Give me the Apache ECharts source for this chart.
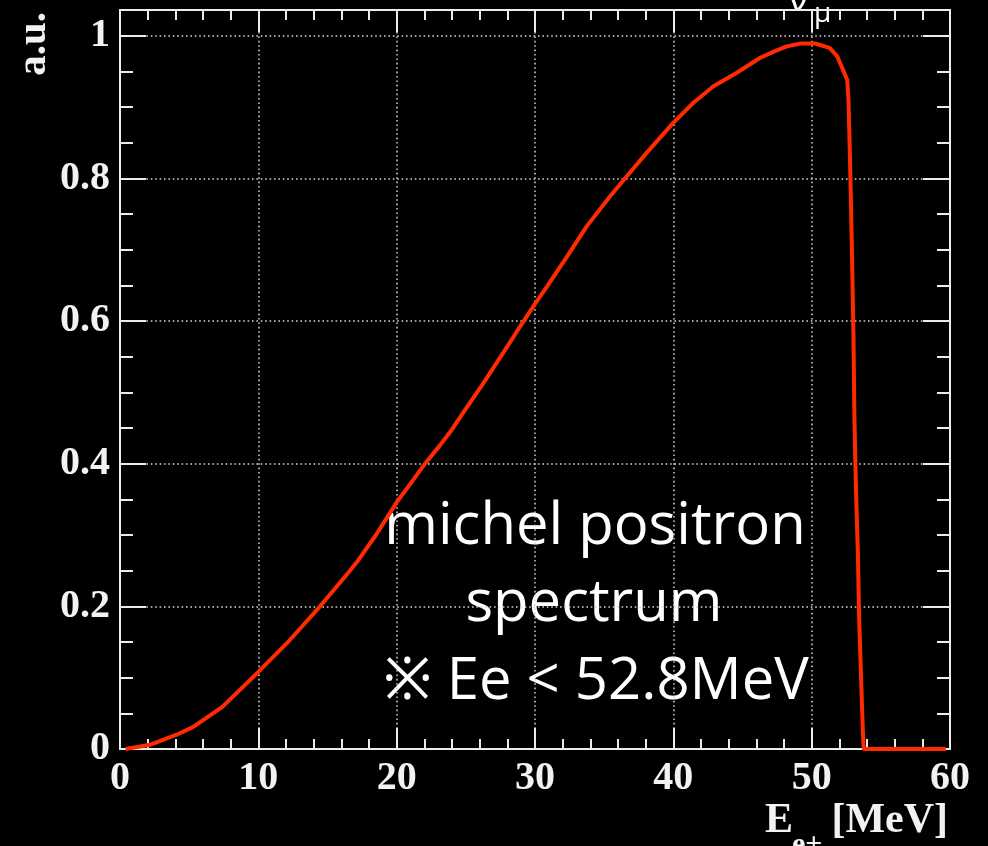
<!DOCTYPE html>
<html>
<head>
<meta charset="utf-8">
<title>Michel positron spectrum</title>
<script src="https://cdn.jsdelivr.net/npm/echarts@6/dist/echarts.min.js"></script>
<style>
  html, body { margin: 0; padding: 0; background: #000; }
  #chart { width: 988px; height: 846px; }
</style>
</head>
<body>
<div id="chart"></div>
<script>
// Positron energy (MeV) and normalised yield (a.u.)
const energy = [
  0.4, 2.2, 4.1, 5.3, 7.4, 10.0, 12.1, 14.46, 15.5, 16.5,
  17.2, 18.5, 19.52, 20.0, 21.0, 22.05, 23.14, 24.0, 24.82, 26.27,
  27.72, 28.68, 30.0, 30.85, 32.3, 33.75, 35.43, 36.64, 38.08, 40.01,
  41.45, 42.9, 44.59, 45.55, 46.28, 47.3, 48.21, 49.2, 50.25, 51.3,
  51.85, 52.27, 52.57, 52.66, 52.78, 52.91, 53.02, 53.09, 53.2, 53.34,
  53.43, 53.58, 53.7, 53.76, 59.7
];
const yieldAU = [
  0.0, 0.006, 0.020, 0.031, 0.059, 0.108, 0.149, 0.200, 0.224, 0.247,
  0.264, 0.300, 0.331, 0.346, 0.372, 0.400, 0.426, 0.448, 0.472, 0.513,
  0.556, 0.585, 0.624, 0.648, 0.690, 0.733, 0.775, 0.803, 0.836, 0.878,
  0.906, 0.929, 0.948, 0.960, 0.969, 0.978, 0.985, 0.989, 0.989, 0.983,
  0.971, 0.952, 0.938, 0.910, 0.820, 0.700, 0.580, 0.465, 0.366, 0.275,
  0.185, 0.095, 0.025, 0.0, 0.0
];

// Axis ranges and tick positions
const xRange = [0, 60];
const yRange = [0, 1.036];
const yMajorTicks = [0, 0.2, 0.4, 0.6, 0.8, 1];
const yMinorTicks = [];
for (let i = 1; i < 20; i++) {
  if (i % 4 !== 0) yMinorTicks.push(+(i * 0.05).toFixed(2));
}

// Annotation text
const noteLines = ['michel positron', 'spectrum', '\u203B Ee < 52.8MeV'];

const frameColor = '#ececec';
const gridColor = '#d4d4d4';
const labelFont = {
  fontFamily: '"Liberation Serif", "DejaVu Serif", serif',
  fontWeight: 'bold',
  fontSize: 40,
  color: '#f2f2f2'
};
const dotted = { color: gridColor, width: 1.5, type: [1.6, 2.8] };

function xAxisDef(position, withLabels, majorLen) {
  return {
    type: 'value', position: position, min: xRange[0], max: xRange[1], interval: 10,
    axisLine: { show: true, onZero: false, lineStyle: { color: frameColor, width: 2 } },
    axisTick: { show: true, inside: true, length: majorLen, lineStyle: { color: frameColor, width: 2 } },
    minorTick: { show: true, splitNumber: 5, length: 10, lineStyle: { color: frameColor, width: 2 } },
    axisLabel: withLabels ? Object.assign({ show: true, margin: 10 }, labelFont) : { show: false },
    splitLine: withLabels ? { show: true, lineStyle: dotted } : { show: false },
    minorSplitLine: { show: false }
  };
}

function yAxisDef(position, values, len, withLabels) {
  return {
    type: 'value', position: position, min: yRange[0], max: yRange[1],
    axisLine: { show: true, onZero: false, lineStyle: { color: frameColor, width: 2 } },
    axisTick: { show: true, inside: true, length: len, customValues: values,
                lineStyle: { color: frameColor, width: 2 } },
    minorTick: { show: false },
    axisLabel: withLabels
      ? Object.assign({ show: true, margin: 10, customValues: yMajorTicks,
                        formatter: v => String(+v.toFixed(1)) }, labelFont)
      : { show: false },
    splitLine: withLabels ? { show: true, lineStyle: dotted } : { show: false }
  };
}

const chart = echarts.init(document.getElementById('chart'), null, { renderer: 'canvas' });

const noteFont = '"Open Sans", "Noto Sans", "Noto Sans CJK JP", sans-serif';

chart.setOption({
  backgroundColor: '#000',
  animation: false,
  grid: { left: 120, right: 38, top: 10, bottom: 97, containLabel: false },
  xAxis: [
    xAxisDef('bottom', true, 21),
    xAxisDef('top', false, 22)
  ],
  yAxis: [
    yAxisDef('left', yMajorTicks, 26, true),
    yAxisDef('left', yMinorTicks, 13, false),
    yAxisDef('right', yMajorTicks, 27, false),
    yAxisDef('right', yMinorTicks, 13, false)
  ],
  series: [{
    type: 'line',
    xAxisIndex: 0,
    yAxisIndex: 0,
    data: energy.map((e, i) => [e, yieldAU[i]]),
    showSymbol: false,
    symbol: 'none',
    clip: false,
    lineStyle: { color: '#ff2a00', width: 4 },
    z: 5
  }],
  graphic: [
    // y-axis title
    { type: 'text', x: 34, y: 12, rotation: Math.PI / 2,
      style: { text: 'a.u.', align: 'right', verticalAlign: 'middle',
               font: 'bold 41px "Liberation Serif", serif', fill: '#f2f2f2' } },
    // x-axis title: E with subscript e+, then unit
    { type: 'text', x: 765, y: 821,
      style: { text: 'E', align: 'left', verticalAlign: 'middle',
               font: 'bold 42px "Liberation Serif", serif', fill: '#f2f2f2' } },
    { type: 'text', x: 792, y: 845,
      style: { text: 'e+', align: 'left', verticalAlign: 'middle',
               font: 'bold 30px "Liberation Serif", serif', fill: '#f2f2f2' } },
    { type: 'text', x: 948, y: 821,
      style: { text: '[MeV]', align: 'right', verticalAlign: 'middle',
               font: 'bold 42px "Liberation Serif", serif', fill: '#f2f2f2' } },
    // nu_mu marker above the endpoint region
    { type: 'text', x: 788, y: 0,
      style: { text: '\u03BD', align: 'left', verticalAlign: 'middle',
               font: '38px ' + noteFont, fill: '#ffffff' } },
    { type: 'text', x: 814, y: 14,
      style: { text: '\u03BC', align: 'left', verticalAlign: 'middle',
               font: '28px ' + noteFont, fill: '#ffffff' } },
    // annotation
    { type: 'text', x: 595, y: 527,
      style: { text: noteLines[0], align: 'center', verticalAlign: 'middle',
               font: '58px ' + noteFont, fill: '#ffffff' } },
    { type: 'text', x: 594, y: 604,
      style: { text: noteLines[1], align: 'center', verticalAlign: 'middle',
               font: '58px ' + noteFont, fill: '#ffffff' } },
    { type: 'text', x: 596, y: 682,
      style: { text: noteLines[2], align: 'center', verticalAlign: 'middle',
               font: '58px ' + noteFont, fill: '#ffffff' } }
  ]
});
</script>
</body>
</html>
